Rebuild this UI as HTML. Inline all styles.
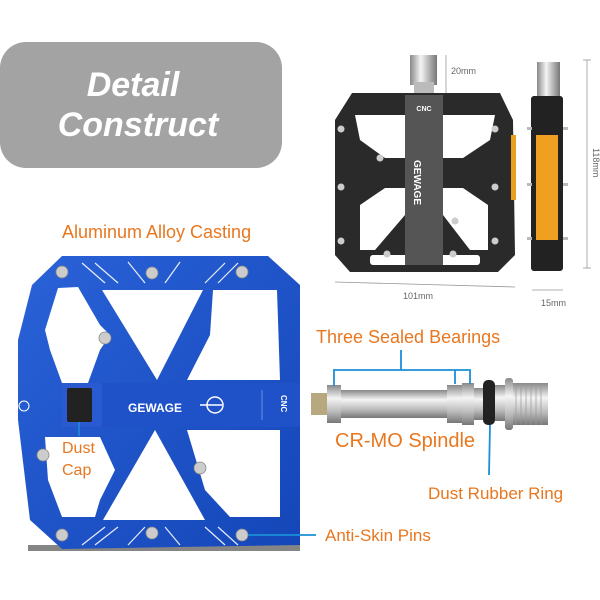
<!DOCTYPE html>
<html><head><meta charset="utf-8"><style>
html,body{margin:0;padding:0;background:#fff;width:600px;height:600px;overflow:hidden}
svg{display:block}
</style></head><body>
<svg width="600" height="600" viewBox="0 0 600 600" xmlns="http://www.w3.org/2000/svg" font-family="Liberation Sans, sans-serif">
<defs>
<linearGradient id="steel" x1="0" y1="0" x2="0" y2="1"><stop offset="0" stop-color="#888"/><stop offset="0.35" stop-color="#f4f4f4"/><stop offset="0.7" stop-color="#bbb"/><stop offset="1" stop-color="#777"/></linearGradient>
<linearGradient id="steelv" x1="0" y1="0" x2="1" y2="0"><stop offset="0" stop-color="#888"/><stop offset="0.4" stop-color="#f4f4f4"/><stop offset="1" stop-color="#777"/></linearGradient>
<linearGradient id="blue" x1="0" y1="0" x2="1" y2="1"><stop offset="0" stop-color="#2a62d8"/><stop offset="1" stop-color="#1446b8"/></linearGradient>
</defs>
<rect x="0" y="42" width="282" height="126" rx="26" fill="#a3a3a3"/>
<text x="133" y="96" font-size="34" font-weight="bold" font-style="italic" fill="#fff" text-anchor="middle">Detail</text>
<text x="138" y="136" font-size="34" font-weight="bold" font-style="italic" fill="#fff" text-anchor="middle">Construct</text>

<!-- black pedal -->
<rect x="410" y="55" width="27" height="30" fill="url(#steelv)"/>
<rect x="414" y="82" width="20" height="12" fill="#bbb"/>
<path d="M352 93 L500 93 L513 120 L515 255 L498 272 L350 272 L335 255 L335 120 Z" fill="#2a2a2a"/>
<path d="M355 115 L405 115 L405 158 L385 158 L360 140 Z M443 115 L495 115 L490 140 L463 158 L443 158 Z M360 205 L385 188 L405 188 L405 215 L375 250 L360 250 Z M443 188 L463 188 L488 205 L488 250 L470 250 L443 215 Z" fill="#fff"/>
<rect x="370" y="255" width="110" height="10" fill="#fff" rx="3"/>
<rect x="405" y="95" width="38" height="170" fill="#555"/>
<text x="424" y="111" font-size="7" font-weight="bold" fill="#fff" text-anchor="middle">CNC</text>
<text transform="translate(414,160) rotate(90)" font-size="10" font-weight="bold" fill="#fff">GEWAGE</text>
<g fill="#ccc"><circle cx="341" cy="129" r="3.5"/><circle cx="341" cy="187" r="3.5"/><circle cx="341" cy="241" r="3.5"/><circle cx="495" cy="129" r="3.5"/><circle cx="495" cy="187" r="3.5"/><circle cx="495" cy="241" r="3.5"/><circle cx="380" cy="158" r="3.5"/><circle cx="455" cy="221" r="3.5"/><circle cx="387" cy="254" r="3.5"/><circle cx="453" cy="254" r="3.5"/></g>
<rect x="511" y="135" width="5" height="65" fill="#e8a020"/>
<rect x="537" y="62" width="23" height="38" fill="url(#steelv)"/>
<rect x="531" y="96" width="32" height="175" rx="3" fill="#222"/>
<rect x="536" y="135" width="22" height="105" fill="#f0a020"/>
<g fill="#bbb"><rect x="527" y="127" width="5" height="3"/><rect x="563" y="127" width="5" height="3"/><rect x="527" y="183" width="5" height="3"/><rect x="563" y="183" width="5" height="3"/><rect x="527" y="237" width="5" height="3"/><rect x="563" y="237" width="5" height="3"/></g>
<g stroke="#999" stroke-width="0.8" fill="none"><line x1="446" y1="55" x2="446" y2="93"/><line x1="587" y1="60" x2="587" y2="268"/><line x1="583" y1="60" x2="591" y2="60"/><line x1="583" y1="268" x2="591" y2="268"/><line x1="335" y1="282" x2="515" y2="287"/><line x1="532" y1="290" x2="563" y2="290"/></g>
<g font-size="9" fill="#666"><text x="451" y="74">20mm</text><text x="403" y="299">101mm</text><text x="541" y="306">15mm</text><text transform="translate(593,148) rotate(90)">118mm</text></g>

<!-- blue pedal -->
<text x="62" y="238" font-size="18" fill="#e8771f">Aluminum Alloy Casting</text>
<rect x="28" y="545" width="272" height="6" fill="#333" opacity="0.6"/>
<path d="M62 256 L268 256 L300 285 L300 545 L62 549 L30 520 L18 420 L18 340 L32 285 Z" fill="url(#blue)"/>
<g fill="#fff">
<path d="M58 288 L78 287 L100 325 L110 335 L100 350 L88 383 L62 383 L50 350 L45 330 Z"/>
<path d="M102 290 L203 290 L157 380 Z"/>
<path d="M213 290 L277 290 L280 380 L187 380 L210 335 Z"/>
<path d="M45 437 L100 437 L115 470 L100 500 L95 517 L62 517 L48 480 Z"/>
<path d="M155 430 L205 520 L103 520 Z"/>
<path d="M187 430 L280 430 L280 517 L230 517 L205 490 Z"/>
</g>
<rect x="100" y="383" width="200" height="44" fill="#1f52c8"/>
<rect x="62" y="383" width="40" height="44" fill="#2a5ad0"/>
<rect x="67" y="388" width="25" height="34" rx="2" fill="#222"/>
<text x="128" y="412" font-size="12" font-weight="bold" fill="#fff">GEWAGE</text>
<circle cx="215" cy="405" r="8" fill="none" stroke="#fff" stroke-width="1.5"/>
<line x1="200" y1="405" x2="222" y2="405" stroke="#fff" stroke-width="1.5"/>
<line x1="262" y1="390" x2="262" y2="420" stroke="#6a8fe8" stroke-width="1"/>
<text transform="translate(281,395) rotate(90)" font-size="8" font-weight="bold" fill="#fff">CNC</text>
<circle cx="24" cy="406" r="5" fill="none" stroke="#fff" stroke-width="1"/>
<g stroke="#fff" stroke-width="1.2" opacity="0.9"><line x1="82" y1="263" x2="105" y2="283"/><line x1="95" y1="263" x2="118" y2="283"/><line x1="128" y1="262" x2="145" y2="283"/><line x1="180" y1="262" x2="165" y2="283"/><line x1="225" y1="263" x2="205" y2="283"/><line x1="238" y1="263" x2="218" y2="283"/><line x1="82" y1="545" x2="105" y2="527"/><line x1="95" y1="545" x2="118" y2="527"/><line x1="128" y1="545" x2="145" y2="527"/><line x1="180" y1="545" x2="165" y2="527"/><line x1="225" y1="545" x2="205" y2="527"/><line x1="238" y1="545" x2="218" y2="527"/></g>
<g fill="#ccc" stroke="#888" stroke-width="0.8"><circle cx="62" cy="272" r="6"/><circle cx="152" cy="273" r="6"/><circle cx="242" cy="272" r="6"/><circle cx="105" cy="338" r="6"/><circle cx="43" cy="455" r="6"/><circle cx="200" cy="468" r="6"/><circle cx="62" cy="535" r="6"/><circle cx="152" cy="533" r="6"/><circle cx="242" cy="535" r="6"/></g>
<line x1="79" y1="422" x2="79" y2="436" stroke="#1a8fd8" stroke-width="1.5"/>
<text x="62" y="453" font-size="16" fill="#e8771f">Dust</text>
<text x="62" y="475" font-size="16" fill="#e8771f">Cap</text>

<!-- spindle -->
<rect x="311" y="393" width="17" height="22" fill="#b8a880"/>
<rect x="327" y="390" width="128" height="28" fill="url(#steel)"/>
<rect x="327" y="385" width="14" height="38" fill="url(#steel)"/>
<rect x="447" y="385" width="15" height="38" fill="url(#steel)"/>
<rect x="462" y="383" width="12" height="42" fill="url(#steel)"/>
<rect x="474" y="388" width="12" height="32" fill="url(#steel)"/>
<rect x="483" y="380" width="12" height="45" rx="5" fill="#222"/>
<rect x="495" y="385" width="12" height="36" fill="url(#steel)"/>
<rect x="505" y="378" width="8" height="52" rx="3" fill="url(#steel)"/>
<rect x="513" y="383" width="35" height="42" fill="url(#steel)"/>
<g stroke="#999" stroke-width="0.7"><line x1="516" y1="383" x2="516" y2="425"/><line x1="521" y1="383" x2="521" y2="425"/><line x1="526" y1="383" x2="526" y2="425"/><line x1="531" y1="383" x2="531" y2="425"/><line x1="536" y1="383" x2="536" y2="425"/><line x1="541" y1="383" x2="541" y2="425"/></g>
<g stroke="#1a8fd8" stroke-width="1.8" fill="none"><path d="M334 386 L334 370 L470 370 L470 384 M455 370 L455 384 M401 370 L401 350"/><line x1="490" y1="425" x2="489" y2="475"/><line x1="248" y1="535" x2="316" y2="535"/></g>
<g fill="#e8771f"><text x="316" y="343" font-size="18">Three Sealed Bearings</text><text x="335" y="447" font-size="20">CR-MO Spindle</text><text x="428" y="499" font-size="17">Dust Rubber Ring</text><text x="325" y="541" font-size="17">Anti-Skin Pins</text></g>
</svg>
</body></html>
